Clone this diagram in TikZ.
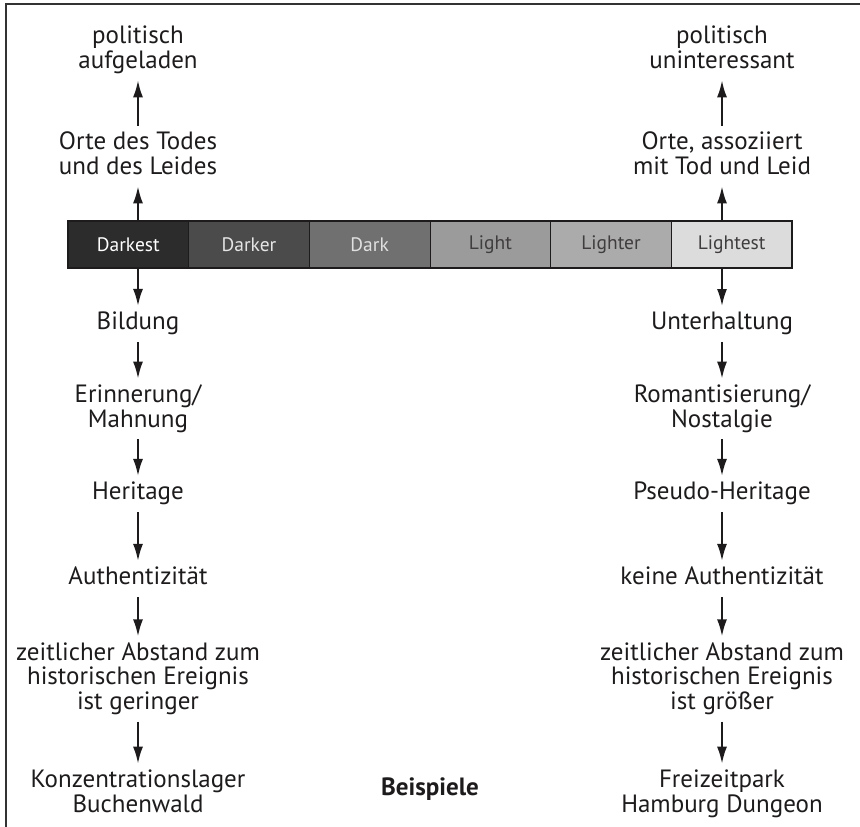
\documentclass[tikz,border=0pt]{standalone}
\usepackage{fontspec}
\setmainfont{PT Sans}
\usepackage{xcolor}
\usetikzlibrary{arrows.meta,positioning}
\definecolor{ink}{HTML}{1E1B1C}
\definecolor{frame}{HTML}{333333}
\definecolor{grau1}{HTML}{2D2C2C}
\definecolor{grau2}{HTML}{4B4B4B}
\definecolor{grau3}{HTML}{707070}
\definecolor{grau4}{HTML}{9B9B9B}
\definecolor{grau5}{HTML}{ABABAB}
\definecolor{grau6}{HTML}{DCDCDC}

\begin{document}
\begin{tikzpicture}[x=1pt,y=-1pt,
  every node/.style={text=ink, font=\fontsize{25}{24.5}\selectfont, align=center,
    inner sep=6pt, text depth=6pt},
  pfeil/.style={draw=ink, line width=2pt, -{Latex[length=17pt,width=10pt]}},
  feld/.style={draw=ink, line width=1pt, minimum width=120.67pt, minimum height=47pt,
    inner sep=0pt, outer sep=0pt, text depth=, font=\fontsize{19.5}{20}\selectfont}
  ]
  \useasboundingbox (0,0) rectangle (860,827);
  \draw[frame, line width=2.8pt] (6,840) -- (6,4) -- (870,4);

  % Skala
  \node[feld, fill=grau1, text=white, anchor=north west] (darkest) at (68,221) {Darkest};
  \node[feld, fill=grau2, text=white!90!black, right=0pt of darkest] (darker) {Darker};
  \node[feld, fill=grau3, text=white!88!black, right=0pt of darker] (dark) {Dark};
  \node[feld, fill=grau4, text=ink!85, right=0pt of dark] (light) {Light};
  \node[feld, fill=grau5, text=ink!85, right=0pt of light] (lighter) {Lighter};
  \node[feld, fill=grau6, text=ink!85, right=0pt of lighter] (lightest) {Lightest};
  \draw[ink, line width=2pt] (darkest.north west) rectangle (lightest.south east);

  % linke Seite
  \node (polL) at (138,50) {politisch\\aufgeladen};
  \node (orteL) at (138,156) {Orte des Todes\\und des Leides};
  \node (bildL) at (138,324) {Bildung};
  \node (erinL) at (138,409) {Erinnerung/\\Mahnung};
  \node (heriL) at (138,494) {Heritage};
  \node (authL) at (138,579) {Authentizität};
  \node (zeitL) at (138,679) {zeitlicher Abstand zum\\historischen Ereignis\\ist geringer};
  \node (bspL) at (138,794) {Konzentrationslager\\Buchenwald};

  % rechte Seite
  \node (polR) at (722,50) {politisch\\uninteressant};
  \node (orteR) at (722,156) {Orte, assoziiert\\mit Tod und Leid};
  \node (bildR) at (722,324) {Unterhaltung};
  \node (erinR) at (722,409) {Romantisierung/\\Nostalgie};
  \node (heriR) at (722,494) {Pseudo-Heritage};
  \node (authR) at (722,579) {keine Authentizität};
  \node (zeitR) at (722,679) {zeitlicher Abstand zum\\historischen Ereignis\\ist größer};
  \node (bspR) at (722,794) {Freizeitpark\\Hamburg Dungeon};

  \node[font=\fontsize{25}{24.5}\selectfont\bfseries] (bsp) at (430,790) {Beispiele};

  \draw[pfeil] (orteL) -- (polL);
  \draw[pfeil] (darkest.north -| orteL) -- (orteL);
  \draw[pfeil] (darkest.south -| bildL) -- (bildL);
  \draw[pfeil] (bildL) -- (erinL);
  \draw[pfeil] (erinL) -- (heriL);
  \draw[pfeil] (heriL) -- (authL);
  \draw[pfeil] (authL) -- (zeitL);
  \draw[pfeil] (zeitL) -- (bspL);

  \draw[pfeil] (orteR) -- (polR);
  \draw[pfeil] (lightest.north -| orteR) -- (orteR);
  \draw[pfeil] (lightest.south -| bildR) -- (bildR);
  \draw[pfeil] (bildR) -- (erinR);
  \draw[pfeil] (erinR) -- (heriR);
  \draw[pfeil] (heriR) -- (authR);
  \draw[pfeil] (authR) -- (zeitR);
  \draw[pfeil] (zeitR) -- (bspR);
\end{tikzpicture}
\end{document}
